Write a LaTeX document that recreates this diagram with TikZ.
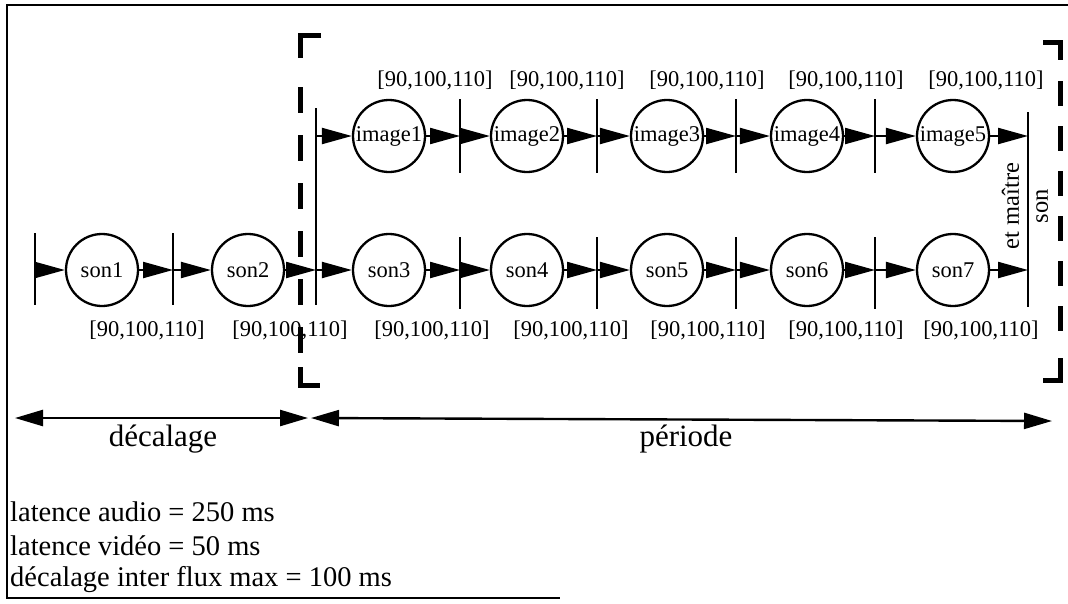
\documentclass[tikz,border=0pt]{standalone}
\usepackage{fontspec}
\setmainfont{Liberation Serif}
\usetikzlibrary{arrows.meta}

\begin{document}
\begin{tikzpicture}[x=1pt,y=-1pt,
  place/.style={circle, draw, line width=2.3pt, minimum size=72pt, inner sep=0pt,
                font=\fontsize{22.5}{26}\selectfont},
  bar/.style={line width=2.5pt},
  flow/.style={line width=2.2pt, -{Triangle[length=30pt,width=16pt]}},
  interval/.style={line width=2.4pt,
                   {Triangle[length=28pt,width=16pt]}-{Triangle[length=28pt,width=16pt]}},
  bounds/.style={font=\fontsize{22.5}{26}\selectfont, inner sep=0pt},
  caption/.style={font=\fontsize{28.5}{32}\selectfont, anchor=west, inner sep=0pt},
  span/.style={font=\fontsize{31}{34}\selectfont, inner sep=0pt},
  group/.style={line width=5pt},
  border/.style={line width=2.5pt},
]
\useasboundingbox (0,0) rectangle (1068,603);

% outer frame
\draw[border] (1068,5) -- (7,5) -- (7,598) -- (560,598);

% period bracket
\draw[group] (321,35) -- (300,35) -- (300,58);
\draw[group, dash pattern=on 26pt off 22pt] (300,87) -- (300,353);
\draw[group] (300,367) -- (300,385) -- (320,385);
\draw[group] (1043,42) -- (1060,42) -- (1060,60);
\draw[group, dash pattern=on 25pt off 20pt] (1060,81) -- (1060,331);
\draw[group] (1060,358) -- (1060,380) -- (1043,380);

% transitions
\coordinate (t0) at (35,270);
\coordinate (t1) at (173,270);
\coordinate (fs) at (316,270);
\coordinate (fi) at (316,136);
\coordinate (s4) at (460,270);
\coordinate (s5) at (597,270);
\coordinate (s6) at (736,270);
\coordinate (s7) at (875,270);
\coordinate (i2) at (460,136);
\coordinate (i3) at (597,136);
\coordinate (i4) at (736,136);
\coordinate (i5) at (875,136);
\coordinate (js) at (1028,270);
\coordinate (ji) at (1028,136);

\draw[bar] (35,233) -- (35,305);
\draw[bar] (173,233) -- (173,305);
\draw[bar] (316,108) -- (316,305);
\foreach \x in {460,597,736,875} {
  \draw[bar] (\x,237) -- (\x,309);
  \draw[bar] (\x,99) -- (\x,173);
}
\draw[bar] (1028,112) -- (1028,307);

% places
\node[place] (son1) at (102,270) {son1};
\node[place] (son2) at (248,270) {son2};
\node[place] (son3) at (389,270) {son3};
\node[place] (son4) at (527,270) {son4};
\node[place] (son5) at (667,270) {son5};
\node[place] (son6) at (807,270) {son6};
\node[place] (son7) at (953,270) {son7};
\node[place] (image1) at (389,136) {image1};
\node[place] (image2) at (527,136) {image2};
\node[place] (image3) at (667,136) {image3};
\node[place] (image4) at (807,136) {image4};
\node[place] (image5) at (953,136) {image5};

% arcs
\draw[flow] (t0) -- (son1);
\draw[flow] (son1) -- (t1);
\draw[flow] (t1) -- (son2);
\draw[flow] (son2) -- (fs);
\draw[flow] (fs) -- (son3);
\draw[flow] (son3) -- (s4);
\draw[flow] (s4) -- (son4);
\draw[flow] (son4) -- (s5);
\draw[flow] (s5) -- (son5);
\draw[flow] (son5) -- (s6);
\draw[flow] (s6) -- (son6);
\draw[flow] (son6) -- (s7);
\draw[flow] (s7) -- (son7);
\draw[flow] (son7) -- (js);
\draw[flow] (fi) -- (image1);
\draw[flow] (image1) -- (i2);
\draw[flow] (i2) -- (image2);
\draw[flow] (image2) -- (i3);
\draw[flow] (i3) -- (image3);
\draw[flow] (image3) -- (i4);
\draw[flow] (i4) -- (image4);
\draw[flow] (image4) -- (i5);
\draw[flow] (i5) -- (image5);
\draw[flow] (image5) -- (ji);

% duration bounds
\node[bounds] (b1) at (147,330) {[90,100,110]};
\node[bounds] (b2) at (290,330) {[90,100,110]};
\node[bounds] (b3) at (432,330) {[90,100,110]};
\node[bounds] (b4) at (571,330) {[90,100,110]};
\node[bounds] (b5) at (708,330) {[90,100,110]};
\node[bounds] (b6) at (846,330) {[90,100,110]};
\node[bounds] (b7) at (981,330) {[90,100,110]};
\node[bounds] (c1) at (435,80) {[90,100,110]};
\node[bounds] (c2) at (567,80) {[90,100,110]};
\node[bounds] (c3) at (707,80) {[90,100,110]};
\node[bounds] (c4) at (846,80) {[90,100,110]};
\node[bounds] (c5) at (986,80) {[90,100,110]};

% synchronisation label
\node[font=\fontsize{24.5}{29}\selectfont, rotate=90, align=center, inner sep=0pt]
  (master) at (1025,206) {et maître\\son};

% offset and period
\coordinate (d0) at (15,418);
\coordinate (d1) at (308,418);
\coordinate (p0) at (311,418);
\coordinate (p1) at (1052,421);
\draw[interval] (d0) -- (d1);
\draw[interval] (p0) -- (p1);
\node[span] (offset) at (163,439) {décalage};
\node[span] (period) at (686,439) {période};

% constraints
\node[caption] (la) at (10,512) {latence audio = 250 ms};
\node[caption] (lv) at (10,546) {latence vidéo = 50 ms};
\node[caption] (ld) at (10,580) {décalage inter flux max = 100 ms};
\end{tikzpicture}
\end{document}
